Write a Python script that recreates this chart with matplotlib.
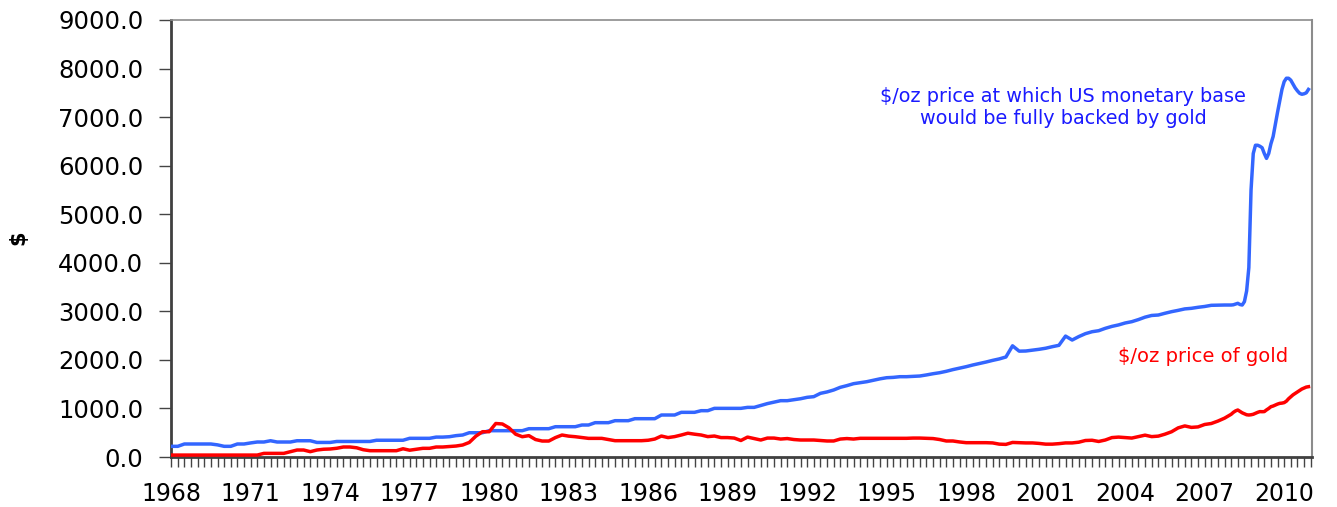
import numpy as np
import matplotlib
matplotlib.use("Agg")
from matplotlib import pyplot as plt
from matplotlib.ticker import FixedLocator, FormatStrFormatter

# quarterly readings 1968 Q1 .. 2007 Q4
base_quarterly = [
    220, 220, 268, 268,      # 1968
    268, 268, 268, 250,      # 1969
    220, 220, 268, 268,      # 1970
    290, 309, 309, 335,      # 1971
    309, 309, 309, 335,      # 1972
    335, 335, 300, 300,      # 1973
    300, 320, 320, 320,      # 1974
    320, 320, 320, 345,      # 1975
    345, 345, 345, 345,      # 1976
    385, 385, 385, 385,      # 1977
    410, 410, 418, 440,      # 1978
    453, 500, 500, 500,      # 1979
    542, 542, 542, 542,      # 1980
    542, 542, 583, 583,      # 1981
    583, 583, 624, 624,      # 1982
    624, 624, 659, 659,      # 1983
    707, 707, 707, 748,      # 1984
    748, 748, 789, 789,      # 1985
    789, 789, 865, 865,      # 1986
    865, 920, 920, 920,      # 1987
    954, 954, 1002, 1002,    # 1988
    1002, 1002, 1002, 1022,  # 1989
    1022, 1060, 1100, 1130,  # 1990
    1160, 1160, 1180, 1200,  # 1991
    1229, 1243, 1311, 1340,  # 1992
    1380, 1435, 1470, 1510,  # 1993
    1530, 1551, 1580, 1610,  # 1994
    1633, 1640, 1654, 1654,  # 1995
    1660, 1668, 1690, 1715,  # 1996
    1736, 1765, 1800, 1830,  # 1997
    1860, 1895, 1925, 1956,  # 1998
    1990, 2020, 2060, 2290,  # 1999
    2180, 2183, 2200, 2218,  # 2000
    2240, 2272, 2300, 2490,  # 2001
    2409, 2480, 2540, 2580,  # 2002
    2601, 2650, 2690, 2720,  # 2003
    2760, 2787, 2830, 2880,  # 2004
    2915, 2924, 2960, 2993,  # 2005
    3020, 3050, 3062, 3083,  # 2006
    3100, 3124, 3128, 3130,  # 2007
]
gold_quarterly = [
    40, 40, 40, 40,          # 1968
    40, 40, 40, 40,          # 1969
    40, 40, 40, 40,          # 1970
    40, 40, 75, 75,          # 1971
    75, 75, 110, 144,        # 1972
    144, 110, 144, 160,      # 1973
    165, 180, 206, 206,      # 1974
    190, 150, 130, 130,      # 1975
    130, 130, 130, 170,      # 1976
    140, 160, 179, 179,      # 1977
    206, 206, 215, 226,      # 1978
    247, 300, 430, 521,      # 1979
    521, 690, 680, 600,      # 1980
    470, 418, 440, 360,      # 1981
    329, 329, 400, 453,      # 1982
    430, 418, 400, 384,      # 1983
    384, 384, 360, 336,      # 1984
    336, 336, 336, 336,      # 1985
    345, 370, 432, 400,      # 1986
    420, 453, 490, 470,      # 1987
    453, 420, 432, 400,      # 1988
    400, 390, 340, 410,      # 1989
    380, 350, 390, 390,      # 1990
    370, 380, 360, 350,      # 1991
    350, 350, 340, 330,      # 1992
    330, 370, 380, 370,      # 1993
    385, 385, 385, 385,      # 1994
    385, 385, 385, 385,      # 1995
    390, 390, 385, 380,      # 1996
    360, 330, 330, 310,      # 1997
    295, 295, 295, 295,      # 1998
    290, 265, 260, 300,      # 1999
    295, 290, 290, 280,      # 2000
    265, 265, 275, 290,      # 2001
    290, 305, 340, 345,      # 2002
    320, 350, 400, 410,      # 2003
    400, 390, 420, 450,      # 2004
    420, 430, 470, 520,      # 2005
    600, 640, 610, 620,      # 2006
    670, 690, 740, 800,      # 2007
]

# monthly readings Jan 2008 .. Dec 2010
base_monthly = [
    3130, 3135, 3150, 3165, 3140, 3130, 3200, 3420, 3900, 5500, 6250, 6420,
    6420, 6400, 6370, 6250, 6150, 6250, 6450, 6600, 6850, 7100, 7330, 7570,
    7730, 7800, 7800, 7760, 7680, 7600, 7540, 7490, 7470, 7480, 7500, 7570,
]
gold_monthly = [
    880, 920, 950, 968, 940, 910, 890, 870, 865, 870, 880, 900,
    920, 935, 933, 935, 970, 1000, 1036, 1050, 1070, 1090, 1105, 1110,
    1120, 1150, 1200, 1240, 1280, 1311, 1340, 1370, 1400, 1420, 1440, 1448,
]

year_labels = list(range(1968, 2011, 3))
y_ticks = list(range(0, 9001, 1000))

years = np.concatenate([1968 + np.arange(len(base_quarterly)) / 4,
                        2008 + np.arange(len(base_monthly)) / 12])
base = np.array(base_quarterly + base_monthly, dtype=float)
gold = np.array(gold_quarterly + gold_monthly, dtype=float)

fig = plt.figure(figsize=(13.37, 5.07), dpi=100)
ax = fig.add_axes([0.128, 0.0986, 0.8533, 0.862])

ax.plot(years, base, color='#3366ff', lw=2.5, solid_joinstyle='round', zorder=3)
ax.plot(years, gold, color='#ff0000', lw=2.5, solid_joinstyle='round', zorder=3)

ax.set_xlim(1968, 2011.05)
ax.set_ylim(0, 9000)

ax.xaxis.set_major_locator(FixedLocator(year_labels))
ax.xaxis.set_minor_locator(FixedLocator(1968 + np.arange(0, 173) / 4))
ax.set_xticklabels([str(y) for y in year_labels])
ax.yaxis.set_major_locator(FixedLocator(y_ticks))
ax.yaxis.set_major_formatter(FormatStrFormatter('%.1f'))

ax.tick_params(axis='x', which='both', direction='out', length=7, width=1,
               color='#444444', pad=11, labelsize=17)
ax.tick_params(axis='y', which='major', direction='out', length=9, width=1,
               color='#444444', pad=11, labelsize=17.5)
for lab in ax.get_xticklabels() + ax.get_yticklabels():
    lab.set_fontfamily('DejaVu Sans')

ax.spines['left'].set_color('#404040')
ax.spines['left'].set_linewidth(2)
ax.spines['bottom'].set_color('#404040')
ax.spines['bottom'].set_linewidth(2)
ax.spines['top'].set_color('#8c8c8c')
ax.spines['top'].set_linewidth(1.2)
ax.spines['right'].set_color('#8c8c8c')
ax.spines['right'].set_linewidth(1.5)

fig.text(0.0135, 0.532, '$', rotation=90, ha='center', va='center',
         fontsize=15, fontweight='bold', family='DejaVu Sans')

ax.text(2001.66, 7200, '$/oz price at which US monetary base\nwould be fully backed by gold',
        color='#1a1aff', fontsize=13.9, ha='center', va='center',
        linespacing=1.25, family='DejaVu Sans')
ax.text(2006.94, 2060, '$/oz price of gold', color='#ff0000', fontsize=14,
        ha='center', va='center', family='DejaVu Sans')

fig.savefig('out.png', dpi=100)
